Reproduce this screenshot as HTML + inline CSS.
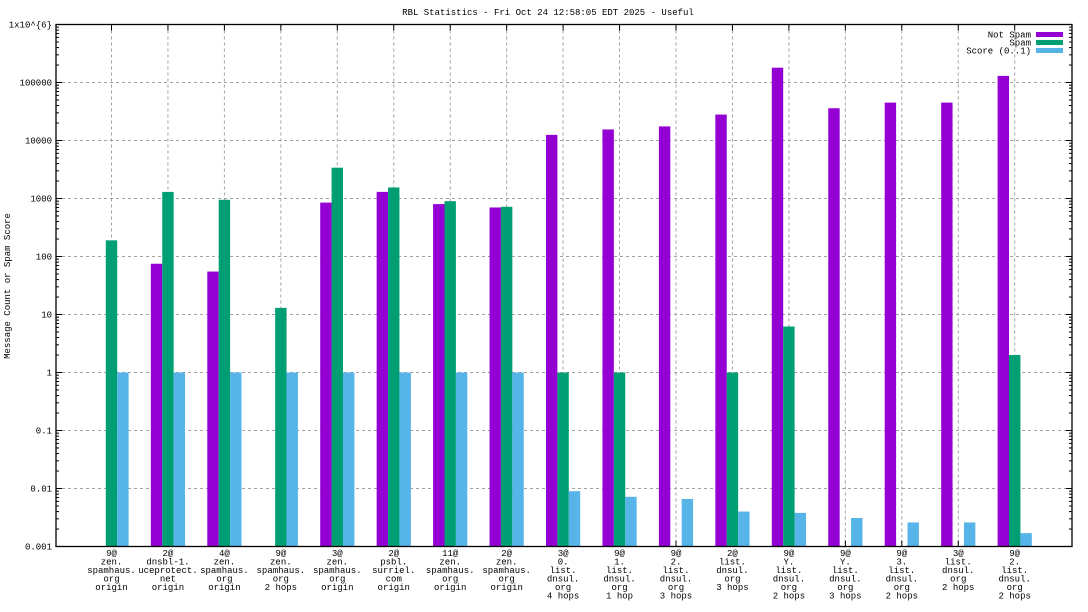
<!DOCTYPE html>
<html><head><meta charset="utf-8"><style>
html,body{margin:0;padding:0;background:#fff;}
svg{display:block;font-family:"Liberation Mono",monospace;font-size:9px;}
</style></head><body>
<svg id="c" width="1088" height="612" xmlns="http://www.w3.org/2000/svg"></svg>
<script>
const s=document.getElementById('c');
let h='';
const L=56,R=1072,T=24.5,B=546.5,D=58;
const y=v=>B-(Math.log10(v)+3)*D;
// grid horizontal
for(let e=-3;e<=6;e++){const yy=y(Math.pow(10,e));
 if(e>-3&&e<6)h+=`<line x1="${L}" x2="${R}" y1="${yy}" y2="${yy}" stroke="#a0a0a0" stroke-dasharray="3,3" stroke-width="1"/>`;
 const lab={"-3":"0.001","-2":"0.01","-1":"0.1","0":"1","1":"10","2":"100","3":"1000","4":"10000","5":"100000","6":"1x10^{6}"}[e];
 h+=`<text x="52" y="${yy+3}" text-anchor="end">${lab}</text>`;
 h+=`<line x1="${L}" x2="${L+6}" y1="${yy}" y2="${yy}" stroke="#000"/><line x1="${R}" x2="${R-6}" y1="${yy}" y2="${yy}" stroke="#000"/>`;
 if(e<6)for(let k=2;k<10;k++){const m=y(k*Math.pow(10,e));h+=`<line x1="${L}" x2="${L+3}" y1="${m}" y2="${m}" stroke="#000"/><line x1="${R}" x2="${R-3}" y1="${m}" y2="${m}" stroke="#000"/>`;}
}
const labels=[["9@","zen.","spamhaus.","org","origin"],["2@","dnsbl-1.","uceprotect.","net","origin"],["4@","zen.","spamhaus.","org","origin"],["9@","zen.","spamhaus.","org","2 hops"],["3@","zen.","spamhaus.","org","origin"],["2@","psbl.","surriel.","com","origin"],["11@","zen.","spamhaus.","org","origin"],["2@","zen.","spamhaus.","org","origin"],["3@","0.","list.","dnsul.","org","4 hops"],["9@","1.","list.","dnsul.","org","1 hop"],["9@","2.","list.","dnsul.","org","3 hops"],["2@","list.","dnsul.","org","3 hops"],["9@","Y.","list.","dnsul.","org","2 hops"],["9@","Y.","list.","dnsul.","org","3 hops"],["9@","3.","list.","dnsul.","org","2 hops"],["3@","list.","dnsul.","org","2 hops"],["9@","2.","list.","dnsul.","org","2 hops"]];
const data=[[0,190,1],[75,1300,1],[55,950,1],[0,13,1],[850,3400,1],[1300,1550,1],[800,900,1],[700,720,1],[12500,1,0.009],[15500,1,0.0072],[17500,0,0.0066],[28000,1,0.004],[180000,6.2,0.0038],[36000,0,0.0031],[45000,0,0.0026],[45000,0,0.0026],[130000,2,0.0017]];
const cols=["#9400d3","#009e73","#56b4e9"];
const W=11.4;
data.forEach((d,i)=>{const cx=111.5+56.45*i;
 h+=`<line x1="${cx}" x2="${cx}" y1="${T}" y2="${B}" stroke="#a0a0a0" stroke-dasharray="3,3"/>`;
 h+=`<line x1="${cx}" x2="${cx}" y1="${T}" y2="${T+6}" stroke="#000"/><line x1="${cx}" x2="${cx}" y1="${B}" y2="${B-6}" stroke="#000"/>`;
 d.forEach((v,j)=>{if(v>0){const x0=cx-W*1.5+j*W,yy=y(v);h+=`<rect x="${x0}" y="${yy}" width="${W}" height="${B-yy}" fill="${cols[j]}"/>`;}});
 labels[i].forEach((t,k)=>{h+=`<text x="${cx}" y="${556+k*8.5}" text-anchor="middle">${t}</text>`;});
});
h+=`<rect x="${L}" y="${T}" width="${R-L}" height="${B-T}" fill="none" stroke="#000" stroke-width="1.3"/>`;
h+=`<text x="548" y="15" text-anchor="middle">RBL Statistics - Fri Oct 24 12:58:05 EDT 2025 - Useful</text>`;
h+=`<text transform="translate(10,286) rotate(-90)" text-anchor="middle">Message Count or Spam Score</text>`;
["Not Spam","Spam","Score (0..1)"].forEach((t,k)=>{const yy=34.5+k*8;h+=`<text x="1031" y="${yy+3}" text-anchor="end">${t}</text><rect x="1036" y="${yy-2.5}" width="27" height="5" fill="${cols[k]}"/>`;});
s.innerHTML=h;
</script>
</body></html>
